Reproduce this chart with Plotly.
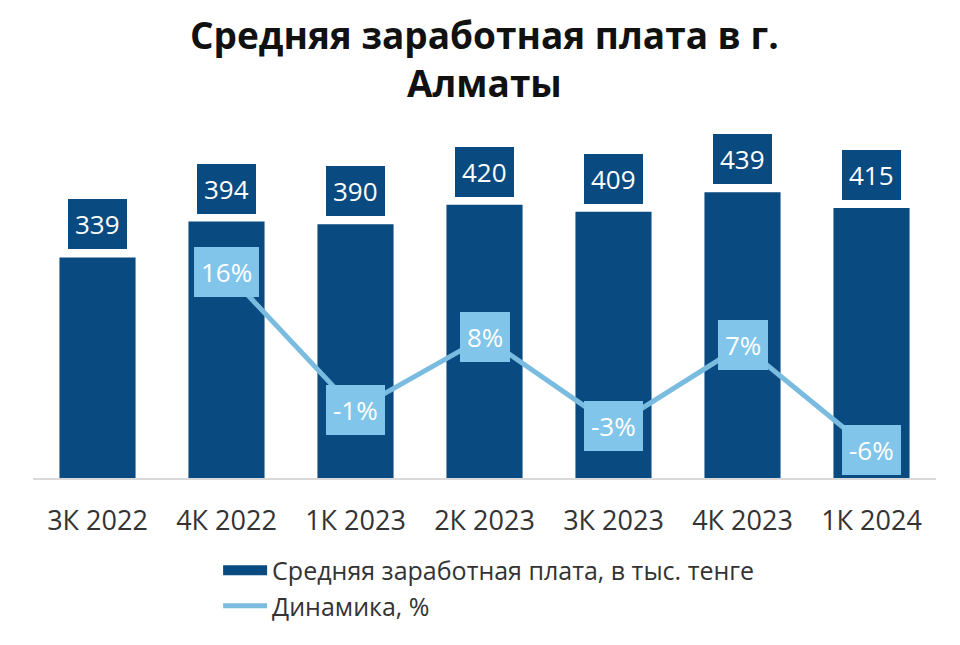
import plotly.graph_objects as go

# quarters and values
quarters = ["3К 2022", "4К 2022", "1К 2023", "2К 2023", "3К 2023", "4К 2023", "1К 2024"]
salary = [339, 394, 390, 420, 409, 439, 415]
growth = [None, 16, -1, 8, -3, 7, -6]

bar_name = "Средняя заработная плата, в тыс. тенге"
line_name = "Динамика, %"
title_text = "<b>Средняя заработная плата в г.<br>Алматы</b>"

navy = "#094a80"
light = "#7abbe0"
box_light = "#82c5ea"
font_family = "Open Sans"

fig = go.Figure()

fig.add_trace(go.Bar(
    x=quarters, y=salary, name=bar_name, showlegend=False,
    marker=dict(color=navy, line=dict(width=0)),
    width=0.59,
))

# legend entry with a wide block, like the original
fig.add_trace(go.Scatter(
    x=[None], y=[None], name=bar_name, mode="lines",
    line=dict(color=navy, width=15),
))

fig.add_trace(go.Scatter(
    x=quarters, y=growth, name=line_name, yaxis="y2",
    mode="lines", line=dict(color=light, width=5),
))

annotations = []
# value boxes above the bars
for q, v in zip(quarters, salary):
    annotations.append(dict(
        x=q, y=v, xref="x", yref="y", text=str(v),
        showarrow=False, yanchor="bottom", yshift=8,
        font=dict(family=font_family, size=26, color="white"),
        bgcolor=navy, borderpad=7, borderwidth=0,
    ))
# percent boxes on the line
for q, g in zip(quarters, growth):
    if g is None:
        continue
    annotations.append(dict(
        x=q, y=g, xref="x", yref="y2", text=f"{g}%",
        showarrow=False, yanchor="middle",
        font=dict(family=font_family, size=26, color="white"),
        bgcolor=box_light, borderpad=7, borderwidth=0,
    ))
# title
annotations.append(dict(
    x=0.5, y=1.28, xref="paper", yref="paper", text=title_text,
    showarrow=False, xanchor="center", yanchor="middle",
    font=dict(family=font_family, size=37, color="#111111"),
))

# page body adds an 8px offset, margins are set with that in mind
fig.update_layout(
    width=960, height=645,
    paper_bgcolor="white", plot_bgcolor="white",
    margin=dict(l=25, r=32, t=142, b=175, autoexpand=False),
    font=dict(family=font_family, color="#333333"),
    xaxis=dict(
        showgrid=False, showline=True, linecolor="#d9d9d9", linewidth=2,
        tickfont=dict(size=27, color="#333333"), ticklabelstandoff=18,
    ),
    yaxis=dict(range=[0, 504], visible=False, showgrid=False),
    yaxis2=dict(range=[-9.4, 31.1], overlaying="y", visible=False, showgrid=False),
    showlegend=True,
    legend=dict(
        orientation="v", x=0.205, xanchor="left", y=-0.212, yanchor="top",
        font=dict(size=25, color="#333333"), tracegroupgap=0,
        itemwidth=44, bgcolor="rgba(0,0,0,0)",
    ),
    annotations=annotations,
)

fig.write_html("out.html")
